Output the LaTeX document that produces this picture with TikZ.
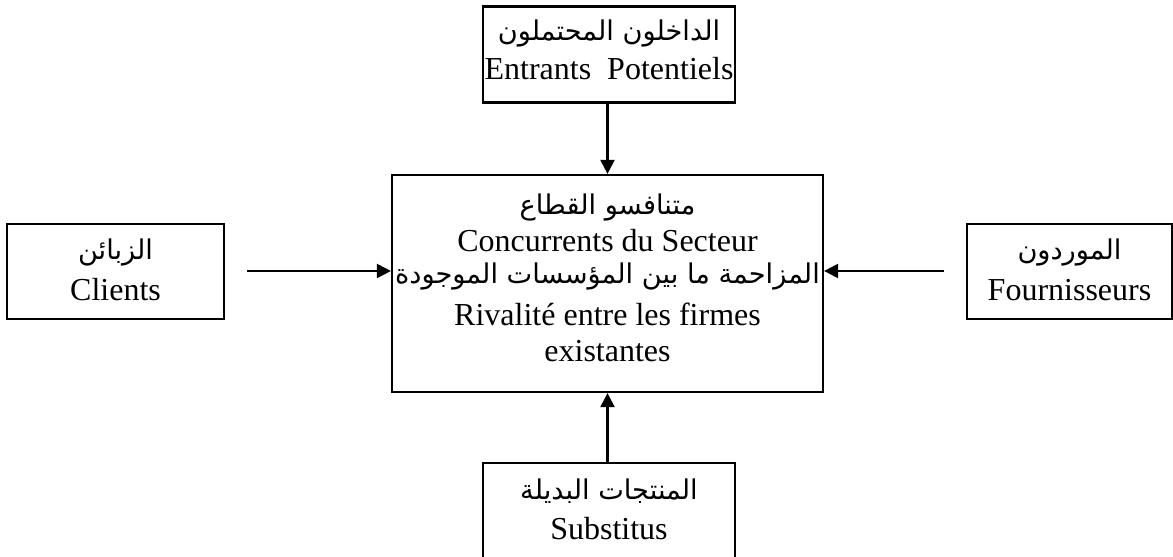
\documentclass[tikz,border=0pt]{standalone}
\usepackage{fontspec}
\setmainfont{Liberation Serif}
\newfontfamily\arabicfont[Script=Arabic,Scale=0.85]{DejaVu Sans}
\TeXXeTstate=1
\usetikzlibrary{arrows.meta}
\newcommand{\ar}[1]{{\arabicfont\beginR #1\endR}}
\tikzset{
  box/.style={draw, line width=1.1pt, inner sep=0pt},
  txt/.style={anchor=base, inner sep=0pt, font=\fontsize{16}{18}\selectfont},
  arr/.style={line width=1.1pt, -{Triangle[length=7pt,width=7pt]}},
}
\begin{document}
\begin{tikzpicture}[x=0.5pt,y=-0.5pt]
\useasboundingbox (0,0) rectangle (1173,557);
\fill[white] (0,0) rectangle (1173,557);
\clip (0,0) rectangle (1173,557);
% boxes
\node[box, minimum width=126pt, minimum height=48pt] (top) at (609,54.5) {};
\node[box, minimum width=215.5pt, minimum height=108.5pt] (mid) at (607.5,283.5) {};
\node[box, minimum width=108.5pt, minimum height=47.5pt] (cli) at (115.5,271.5) {};
\node[box, minimum width=102.5pt, minimum height=47.5pt] (fou) at (1069.5,271.5) {};
\node[box, minimum width=126pt, minimum height=68.5pt] (sub) at (609,531.5) {};
% texts
\node[txt] (t1) at (609,40) {\ar{الداخلون المحتملون}};
\node[txt] (t2) at (609,79) {Entrants\ \ Potentiels};
\node[txt] (m1) at (607.5,214) {\ar{متنافسو القطاع}};
\node[txt] (m2) at (607.5,251) {Concurrents du Secteur};
\node[txt] (m3) at (607.5,283) {\ar{المزاحمة ما بين المؤسسات الموجودة}};
\node[txt] (m4) at (607.5,325) {Rivalité entre les firmes};
\node[txt] (m5) at (607.5,361) {existantes};
\node[txt] (c1) at (115.5,259) {\ar{الزبائن}};
\node[txt] (c2) at (115.5,300) {Clients};
\node[txt] (f1) at (1069.5,259) {\ar{الموردون}};
\node[txt] (f2) at (1069.5,300) {Fournisseurs};
\node[txt] (s1) at (609,499) {\ar{المنتجات البديلة}};
\node[txt] (s2) at (609,539) {Substitus};
% connectors
\coordinate (cl) at (247,271);
\coordinate (fr) at (944,271);
\draw[arr] (top.south -| mid.north) -- (mid.north);
\draw[arr] (sub.north -| mid.south) -- (mid.south);
\draw[arr] (cl) -- (cl -| mid.west);
\draw[arr] (fr) -- (fr -| mid.east);
\end{tikzpicture}
\end{document}
